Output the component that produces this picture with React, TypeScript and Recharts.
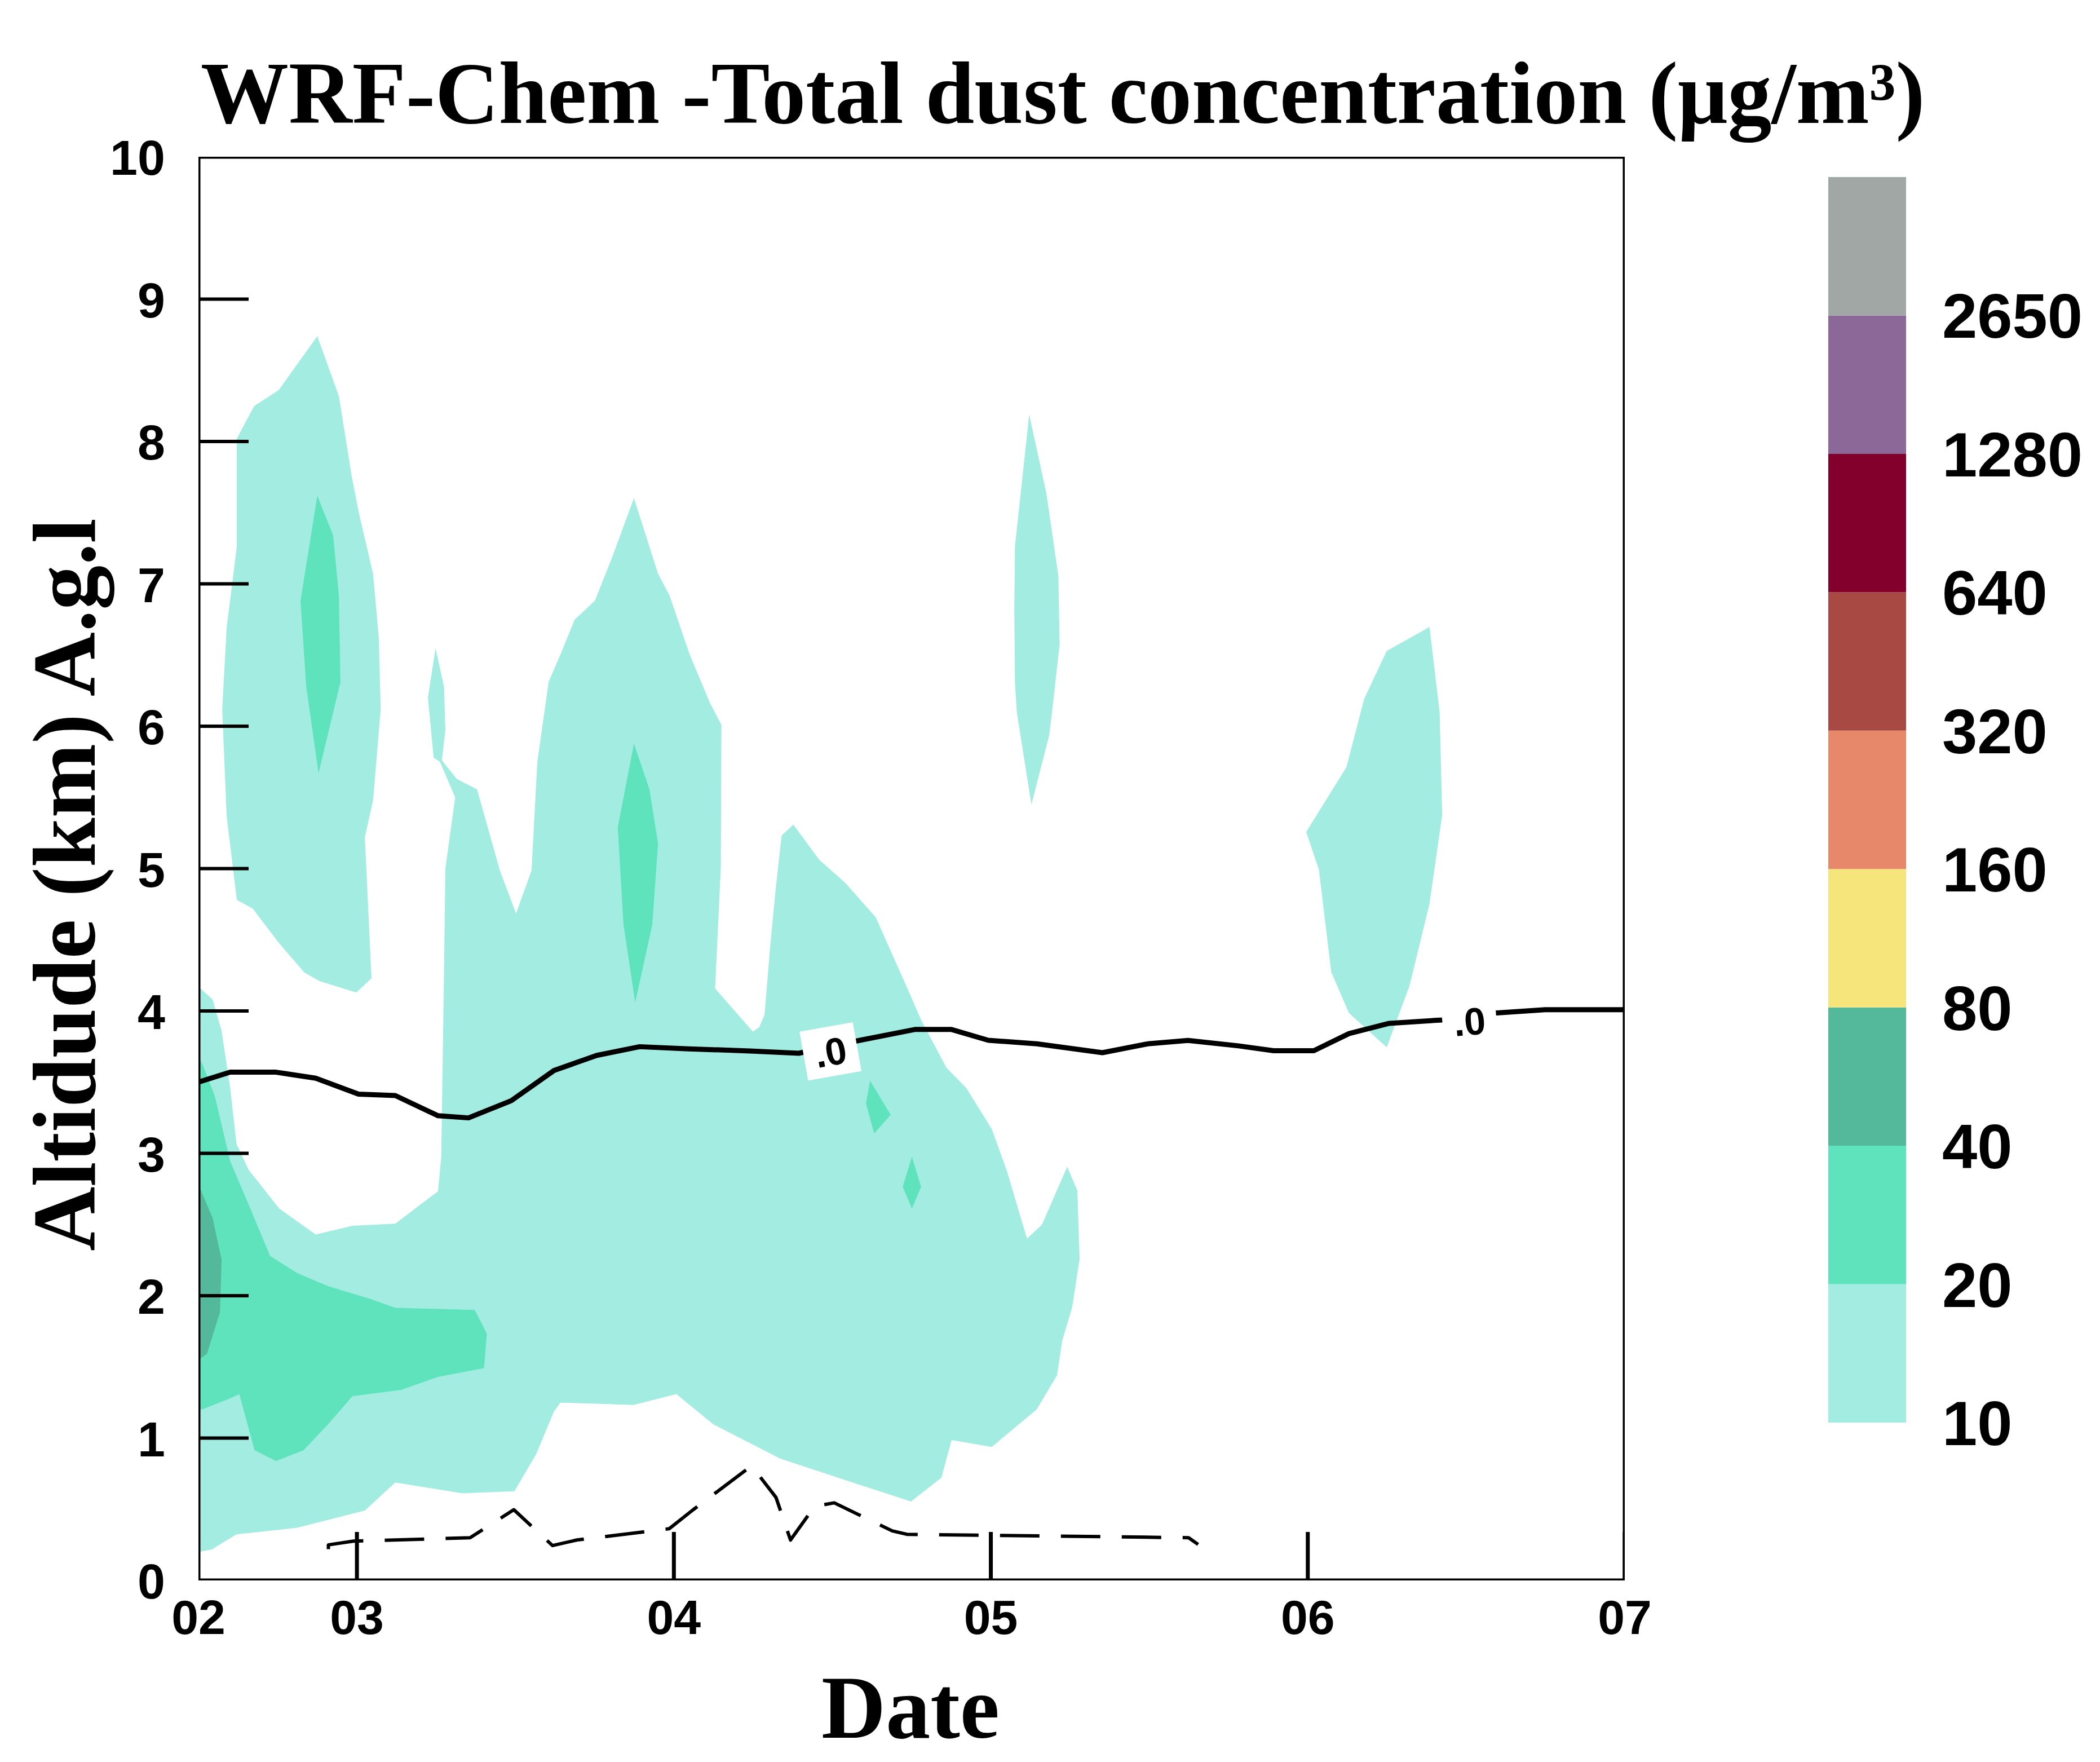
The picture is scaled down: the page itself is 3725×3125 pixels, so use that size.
import React from 'react';
import { ComposedChart, Scatter, XAxis, YAxis, BarChart, Bar } from 'recharts';

// ---------- axis ticks ----------
const xTicks = [2.5, 3, 4, 5, 6, 7];
const xTickLabels = ['02', '03', '04', '05', '06', '07'];
const yTicks = [0, 1, 2, 3, 4, 5, 6, 7, 8, 9, 10];
const xInnerTicks = [3, 4, 5, 6, 7];
const yInnerTicks = [1, 2, 3, 4, 5, 6, 7, 8, 9];

// ---------- colour scale ----------
const levels = [10, 20, 40, 80, 160, 320, 640, 1280, 2650];
const bandColors = ['#a2ece1', '#5fe3bc', '#54b99b', '#f5e57a', '#e8886b', '#a84943', '#84002c', '#8c6898', '#a0a7a5'];

// ---------- contour polygons (day, km) ----------
const tealMain = [
  [3.248, 6.548], [3.275, 6.275], [3.279, 5.97], [3.268, 5.76], [3.315, 5.63], [3.379, 5.556], [3.451, 4.987],
  [3.502, 4.684], [3.551, 4.987], [3.569, 5.745], [3.605, 6.313], [3.642, 6.503], [3.687, 6.749], [3.751, 6.882],
  [3.805, 7.185], [3.874, 7.602], [3.95, 7.071], [3.986, 6.92], [4.05, 6.503], [4.114, 6.162], [4.15, 6.01],
  [4.148, 5.0], [4.13, 4.158], [4.249, 3.855], [4.269, 3.885], [4.286, 3.972], [4.304, 4.457], [4.322, 4.874],
  [4.34, 5.233], [4.377, 5.309], [4.458, 5.063], [4.542, 4.897], [4.637, 4.657], [4.733, 4.177], [4.78, 3.937],
  [4.86, 3.601], [4.923, 3.457], [5.003, 3.17], [5.05, 2.881], [5.114, 2.401], [5.161, 2.498], [5.241, 2.906],
  [5.273, 2.738], [5.28, 2.258], [5.257, 1.922], [5.225, 1.682], [5.209, 1.442], [5.145, 1.202], [5.003, 0.938],
  [4.876, 0.986], [4.844, 0.722], [4.748, 0.554], [4.336, 0.855], [4.124, 1.097], [4.008, 1.309], [3.873, 1.233],
  [3.642, 1.249], [3.622, 1.188], [3.565, 0.885], [3.497, 0.627], [3.333, 0.612], [3.121, 0.688], [3.025, 0.491],
  [2.812, 0.37], [2.62, 0.324], [2.542, 0.218], [2.5, 0.2], [2.5, 4.17], [2.545, 4.08], [2.573, 3.86],
  [2.6, 3.461], [2.62, 3.067], [2.658, 2.885], [2.755, 2.612], [2.87, 2.43], [2.986, 2.491], [3.121, 2.506],
  [3.256, 2.734], [3.266, 2.976], [3.275, 4.31], [3.279, 5.0], [3.31, 5.5], [3.262, 5.75], [3.242, 5.78], [3.224, 6.2],
];
const tealUpperLeft = [
  [2.875, 8.74], [2.943, 8.32], [2.984, 7.75], [3.007, 7.49], [3.051, 7.07], [3.069, 6.62], [3.075, 6.12],
  [3.051, 5.48], [3.025, 5.22], [3.046, 4.23], [2.998, 4.13], [2.882, 4.21], [2.834, 4.27], [2.753, 4.48],
  [2.671, 4.72], [2.621, 4.78], [2.589, 5.37], [2.575, 6.12], [2.589, 6.69], [2.621, 7.26], [2.621, 8.02],
  [2.676, 8.25], [2.753, 8.36],
];
const tealSliver05 = [
  [5.121, 8.189], [5.175, 7.639], [5.213, 7.057], [5.217, 6.577], [5.193, 6.097], [5.184, 5.935], [5.128, 5.45],
  [5.082, 6.097], [5.076, 6.313], [5.074, 6.817], [5.076, 7.26],
];
const tealBlob06 = [
  [6.384, 6.697], [6.416, 6.097], [6.424, 5.377], [6.384, 4.753], [6.321, 4.177], [6.249, 3.745], [6.13, 3.985],
  [6.074, 4.273], [6.035, 4.993], [5.995, 5.257], [6.122, 5.713], [6.178, 6.193], [6.249, 6.529],
];
const greenLowerLeft = [
  [2.5, 3.68], [2.514, 3.62], [2.552, 3.4], [2.6, 2.946], [2.658, 2.643], [2.726, 2.279], [2.812, 2.158],
  [2.909, 2.067], [3.044, 1.976], [3.121, 1.915], [3.372, 1.9], [3.41, 1.733], [3.401, 1.491], [3.256, 1.43],
  [3.14, 1.339], [2.986, 1.294], [2.909, 1.097], [2.832, 0.915], [2.745, 0.839], [2.677, 0.915], [2.629, 1.309],
  [2.6, 1.279], [2.514, 1.203], [2.5, 1.2],
];
const greenUpperLeft = [[2.875, 7.62], [2.925, 7.34], [2.943, 6.92], [2.948, 6.31], [2.879, 5.67], [2.84, 6.28], [2.822, 6.88]];
const greenColumn04 = [[3.874, 5.878], [3.923, 5.556], [3.95, 5.177], [3.932, 4.608], [3.878, 4.059], [3.841, 4.608], [3.823, 5.29]];
const greenDiamondA = [[4.619, 3.51], [4.684, 3.27], [4.632, 3.14], [4.606, 3.35]];
const greenDiamondB = [[4.751, 2.976], [4.78, 2.764], [4.751, 2.612], [4.722, 2.764]];
const darkLowerLeft = [[2.5, 2.78], [2.545, 2.544], [2.573, 2.252], [2.568, 1.885], [2.527, 1.592], [2.5, 1.55]];

// ---------- contour lines ----------
const zeroLine = [
  [2.5, 3.5], [2.6, 3.57], [2.745, 3.57], [2.87, 3.528], [3.005, 3.416], [3.121, 3.406], [3.256, 3.264],
  [3.352, 3.249], [3.487, 3.37], [3.622, 3.582], [3.757, 3.688], [3.892, 3.749], [4.047, 3.734], [4.24, 3.719],
  [4.394, 3.703], [4.587, 3.794], [4.76, 3.87], [4.876, 3.87], [4.992, 3.794], [5.145, 3.769], [5.352, 3.707],
  [5.495, 3.769], [5.622, 3.793], [5.781, 3.755], [5.892, 3.721], [6.019, 3.721], [6.13, 3.841], [6.257, 3.913],
  [6.424, 3.937], [6.59, 3.985], [6.749, 4.009], [7.0, 4.009],
];
const pblLine = [
  [2.91, 0.22], [2.91, 0.25], [2.989, 0.276], [3.357, 0.3], [3.495, 0.497], [3.617, 0.245], [3.694, 0.284], [3.985, 0.363],
  [4.061, 0.497], [4.245, 0.805], [4.322, 0.584], [4.368, 0.284], [4.444, 0.521], [4.506, 0.545], [4.689, 0.348],
  [4.735, 0.324], [5.624, 0.3], [5.654, 0.253],
];
const contourLabels = [
  { x: 4.494, y: 3.716, text: '.0', angle: -10 },
  { x: 6.51, y: 3.93, text: '.0', angle: -5 },
];
const frameCorners = [[2.5, 0], [7, 0], [7, 10], [2.5, 10]];

const toPts = (a: number[][]) => a.map(([x, y]) => ({ x, y }));

const pathOf = (points: any[], close: boolean) => {
  const p = (points || []).filter((q) => q && q.x != null && q.y != null);
  if (!p.length) return '';
  return p.map((q, i) => `${i ? 'L' : 'M'}${q.x},${q.y}`).join('') + (close ? 'Z' : '');
};

const fillPoly = (fill: string) => (props: any) => <path d={pathOf(props.points, true)} fill={fill} stroke="none" />;
const strokeLine = (width: number, dash?: string, close = false) => (props: any) => (
  <path d={pathOf(props.points, close)} fill="none" stroke="#000" strokeWidth={width} strokeDasharray={dash}
    strokeLinejoin="round" strokeLinecap={dash ? 'butt' : 'round'} />
);
const NoShape = () => <g />;

const YTickMark = (p: any) => <line x1={p.cx} y1={p.cy} x2={p.cx + 89} y2={p.cy} stroke="#000" strokeWidth={6} />;
const XTickMark = (p: any) => <line x1={p.cx} y1={p.cy} x2={p.cx} y2={p.cy - 86} stroke="#000" strokeWidth={7} />;
const ContourLabel = (p: any) => {
  const d = p.payload || p;
  return (
    <g transform={`translate(${p.cx},${p.cy}) rotate(${d.angle || 0})`}>
      <rect x={-48} y={-44} width={96} height={88} fill="#fff" />
      <text x={0} y={25} textAnchor="middle" fontFamily="Liberation Sans" fontWeight="bold" fontSize={68} fill="#000">{d.text}</text>
    </g>
  );
};

const XTick = (p: any) => {
  const i = xTicks.indexOf(p.payload.value);
  return (
    <text x={p.x} y={p.y + 62} textAnchor="middle" fontFamily="Liberation Sans" fontWeight="bold" fontSize={86} fill="#000">
      {i >= 0 ? xTickLabels[i] : ''}
    </text>
  );
};
const YTick = (p: any) => (
  <text x={p.x} y={p.y + 32} textAnchor="end" fontFamily="Liberation Sans" fontWeight="bold" fontSize={88} fill="#000">
    {p.payload.value}
  </text>
);
const CbTick = (p: any) => (
  <text x={p.x} y={p.y + 40} textAnchor="start" fontFamily="Liberation Sans" fontWeight="bold" fontSize={112} fill="#000">
    {levels[p.payload.value]}
  </text>
);

const fills: { data: number[][]; color: string }[] = [
  { data: tealMain, color: bandColors[0] },
  { data: tealUpperLeft, color: bandColors[0] },
  { data: tealSliver05, color: bandColors[0] },
  { data: tealBlob06, color: bandColors[0] },
  { data: greenLowerLeft, color: bandColors[1] },
  { data: greenUpperLeft, color: bandColors[1] },
  { data: greenColumn04, color: bandColors[1] },
  { data: greenDiamondA, color: bandColors[1] },
  { data: greenDiamondB, color: bandColors[1] },
  { data: darkLowerLeft, color: bandColors[2] },
];

const colorbarRow = [Object.fromEntries([['name', 'dust'], ...bandColors.map((_, i) => [`b${i}`, 1])])];
const cbTicks = levels.map((_, i) => i);

export default function App() {
  return (
    <div style={{ position: 'relative', width: 3709, height: 3109, background: '#fff' }}>
      <ComposedChart width={3709} height={3109} margin={{ top: 270, right: 835, bottom: 284, left: 284 }}>
        <XAxis type="number" dataKey="x" domain={[2.5, 7]} ticks={xTicks} interval={0} allowDataOverflow
          axisLine={false} tickLine={false} tickSize={0} tickMargin={33} height={30} tick={XTick} />
        <YAxis type="number" dataKey="y" domain={[0, 10]} ticks={yTicks} interval={0} allowDataOverflow
          axisLine={false} tickLine={false} tickSize={0} tickMargin={59} width={60} tick={YTick} />
        {fills.map((f, i) => (
          <Scatter key={`f${i}`} data={toPts(f.data)} line={fillPoly(f.color)} shape={NoShape} isAnimationActive={false} />
        ))}
        <Scatter data={toPts(zeroLine)} line={strokeLine(9)} shape={NoShape} isAnimationActive={false} />
        <Scatter data={toPts(pblLine)} line={strokeLine(6, '70 38')} shape={NoShape} isAnimationActive={false} />
        <Scatter data={contourLabels} shape={ContourLabel} isAnimationActive={false} />
        <Scatter data={yInnerTicks.map((y) => ({ x: 2.5, y }))} shape={YTickMark} isAnimationActive={false} />
        <Scatter data={xInnerTicks.map((x) => ({ x, y: 0 }))} shape={XTickMark} isAnimationActive={false} />
        <Scatter data={toPts(frameCorners)} line={strokeLine(7, undefined, true)} shape={NoShape} isAnimationActive={false} />
      </ComposedChart>

      <div style={{ position: 'absolute', left: 3235, top: 256 }}>
        <BarChart width={468} height={2330} data={colorbarRow} barCategoryGap={0} margin={{ top: 50, right: 0, bottom: 71, left: 0 }}>
          <XAxis dataKey="name" hide />
          <YAxis type="number" orientation="right" domain={[0, 9]} ticks={cbTicks} interval={0} width={330}
            axisLine={false} tickLine={false} tickSize={0} tickMargin={64} tick={CbTick} />
          {bandColors.map((c, i) => (
            <Bar key={c} dataKey={`b${i}`} stackId="cb" fill={c} isAnimationActive={false} />
          ))}
        </BarChart>
      </div>

      <svg width={3709} height={3117} style={{ position: 'absolute', left: 0, top: 0, pointerEvents: 'none' }}>
        <text x={348} y={210} fontFamily="Liberation Serif" fontWeight="bold" fontSize={156} fill="#000">
          WRF-Chem -Total dust concentration (μg/m³)
        </text>
        <text x={1607} y={3074} textAnchor="middle" fontFamily="Liberation Serif" fontWeight="bold" fontSize={158} fill="#000">
          Date
        </text>
        <text transform="translate(160,1561) rotate(-90)" textAnchor="middle" fontFamily="Liberation Serif" fontWeight="bold" fontSize={158} fill="#000">
          Altidude (km) A.g.l
        </text>
      </svg>
    </div>
  );
}
